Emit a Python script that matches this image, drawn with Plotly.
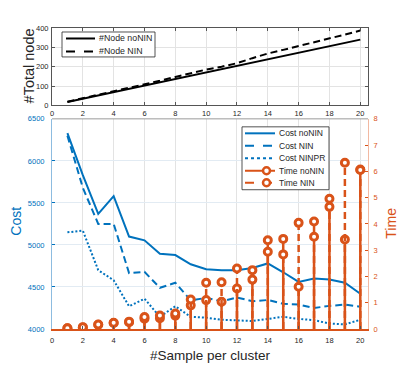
import plotly.graph_objects as go

# data
samples = list(range(1, 21))

node_nonin = [17, 34, 51, 68, 85, 102, 119, 136, 153, 170, 187, 204, 221, 238, 255, 272, 289, 306, 323, 340]
node_nin = [19, 37, 54, 70, 88, 108, 127, 147, 166, 185, 200, 218, 244, 268, 287, 306, 326, 345, 366, 387]

cost_nonin = [6330, 5830, 5370, 5580, 5100, 5055, 4895, 4880, 4770, 4710,
              4700, 4700, 4725, 4780, 4675, 4560, 4600, 4590, 4550, 4420]
cost_nin = [6300, 5680, 5250, 5250, 4665, 4680, 4490, 4550, 4340, 4370,
            4330, 4375, 4330, 4345, 4300, 4290, 4250, 4275, 4290, 4265]
cost_ninpr = [5150, 5170, 4700, 4580, 4270, 4360, 4145, 4270, 4145, 4135,
              4110, 4105, 4095, 4120, 4145, 4120, 4105, 4065, 4055, 4110]

time_nonin = [0.03, 0.06, 0.16, 0.23, 0.26, 0.39, 0.41, 0.51, 0.90, 1.10,
              1.04, 1.54, 2.24, 3.38, 3.43, 1.61, 4.09, 4.96, 3.41, 6.07]
time_nin = [0.03, 0.07, 0.17, 0.24, 0.28, 0.46, 0.51, 0.59, 1.12, 1.76,
            1.78, 2.30, 1.88, 2.94, 2.84, 4.04, 3.51, 4.65, 6.33, 6.05]

node_names = ["#Node noNIN", "#Node NIN"]
cost_names = ["Cost noNIN", "Cost NIN", "Cost NINPR"]
time_names = ["Time noNIN", "Time NIN"]

BLUE = "#0072BD"
ORANGE = "#D95319"
DARK = "#262626"
FONT = "Liberation Sans, Arial, sans-serif"
DASH = "7px,4px"
DOT = "2px,2px"

# the page body has an 8px margin, so the figure is drawn 8px in from the window corner
OFF = 8
W, H = 407 - OFF, 370 - OFF

# plot area in window pixels: x 52..368, y 28..329.5
L, R, T, B = 52, 368, 28, 329.5


def px(x):
    return (x - L) / (R - L)


def py(y):
    return (B - y) / (B - T)


fig = go.Figure()

# top: total node
fig.add_trace(go.Scatter(x=samples, y=node_nonin, mode="lines", line=dict(color="black", width=2),
                         xaxis="x", yaxis="y", showlegend=False))
fig.add_trace(go.Scatter(x=samples, y=node_nin, mode="lines", line=dict(color="black", width=2, dash=DASH),
                         xaxis="x", yaxis="y", showlegend=False))

# bottom: cost lines
for vals, d in zip([cost_nonin, cost_nin, cost_ninpr], ["solid", DASH, DOT]):
    fig.add_trace(go.Scatter(x=samples, y=vals, mode="lines", line=dict(color=BLUE, width=2, dash=d),
                             xaxis="x2", yaxis="y2", showlegend=False))


def stems(xv, yv):
    xs, ys = [], []
    for a, b in zip(xv, yv):
        xs += [a, a, None]
        ys += [0, b, None]
    return xs, ys


# time stems on the right axis
for vals, d in zip([time_nonin, time_nin], ["solid", DASH]):
    sx, sy = stems(samples, vals)
    fig.add_trace(go.Scatter(x=sx, y=sy, mode="lines", line=dict(color=ORANGE, width=2.5, dash=d),
                             xaxis="x2", yaxis="y3", showlegend=False, connectgaps=False))
    fig.add_trace(go.Scatter(x=samples, y=vals, mode="markers",
                             marker=dict(symbol="circle", size=7, color="white",
                                         line=dict(color=ORANGE, width=3)),
                             xaxis="x2", yaxis="y3", showlegend=False))

tick_font = dict(family=FONT, size=7.5, color=DARK)
grid = "#e3e3e3"

fig.update_layout(
    width=W, height=H,
    margin=dict(l=L - OFF, r=407 - R, t=T - OFF, b=370 - B, pad=0),
    paper_bgcolor="white", plot_bgcolor="white",
    font=dict(family=FONT),
    xaxis=dict(domain=[0, 1], anchor="y", range=[0, 20.5], tickvals=list(range(0, 21, 2)),
               ticks="inside", ticklen=3, tickcolor="#555", showline=True, linecolor="#555",
               linewidth=1, mirror="ticks", showgrid=True, gridcolor=grid, zeroline=False,
               tickfont=tick_font, ticklabelstandoff=1),
    yaxis=dict(domain=[(B - 105.5) / (B - T), 1], anchor="x", range=[0, 400],
               tickvals=[0, 100, 200, 300, 400], ticks="inside", ticklen=3, tickcolor="#555",
               showline=True, linecolor="#555", linewidth=1, mirror="ticks", showgrid=True,
               gridcolor=grid, zeroline=False, tickfont=tick_font, ticklabelstandoff=1),
    xaxis2=dict(domain=[0, 1], anchor="y2", range=[0, 20.5], tickvals=list(range(0, 21, 2)),
                ticks="inside", ticklen=3, tickcolor="#555", showline=True, linecolor=ORANGE,
                linewidth=1.5, mirror=False, showgrid=True, gridcolor=grid, zeroline=False,
                tickfont=tick_font, ticklabelstandoff=3),
    yaxis2=dict(domain=[0, (B - 119) / (B - T)], anchor="x2", range=[4000, 6500],
                tickvals=[4000, 4500, 5000, 5500, 6000, 6500], ticks="inside", ticklen=3,
                tickcolor=BLUE, showline=True, linecolor="#8dbce0", linewidth=1, showgrid=True,
                gridcolor="#e2ebf3", zeroline=False, tickfont=dict(family=FONT, size=7.5, color=BLUE),
                ticklabelstandoff=5),
    yaxis3=dict(overlaying="y2", side="right", anchor="x2", range=[0, 8], tickvals=list(range(0, 9)),
                ticks="inside", ticklen=3, tickcolor=ORANGE, showline=True, linecolor="#f2b9a2",
                linewidth=1, showgrid=False, zeroline=False,
                tickfont=dict(family=FONT, size=7.5, color=ORANGE), ticklabelstandoff=3),
)

shapes = []
annotations = []


def label(text, x, y, size, color, angle=0, xanchor="center"):
    annotations.append(dict(text=text, xref="paper", yref="paper", x=px(x), y=py(y),
                            xanchor=xanchor, yanchor="middle", textangle=angle, showarrow=False,
                            font=dict(size=size, color=color)))


# top edge of the lower axes
shapes.append(dict(type="line", xref="paper", yref="paper", x0=0, x1=1, y0=py(119), y1=py(119),
                   line=dict(color="#9a9a9a", width=1), layer="above"))

# axis titles
label("#Total node", 29, 66.5, 14.5, DARK, angle=-90)
label("Cost", 16, 222, 14, BLUE, angle=-90)
label("Time", 391, 224, 14, ORANGE, angle=-90)
label("#Sample per cluster", 210, 356.5, 13.5, DARK)

# legend of the top axes
shapes.append(dict(type="rect", xref="paper", yref="paper", x0=px(62), x1=px(155), y0=py(57), y1=py(32),
                   line=dict(color=DARK, width=0.8), fillcolor="white", layer="above"))
for name, d, yy in zip(node_names, ["solid", "dash"], [38.5, 51.5]):
    shapes.append(dict(type="line", xref="paper", yref="paper", x0=px(66), x1=px(95), y0=py(yy), y1=py(yy),
                       line=dict(color="black", width=2, dash=d), layer="above"))
    label(name, 96.5, yy, 8.8, DARK, xanchor="left")

# legend of the bottom axes
shapes.append(dict(type="rect", xref="paper", yref="paper", x0=px(242), x1=px(329), y0=py(190), y1=py(127),
                   line=dict(color=DARK, width=0.8), fillcolor="white", layer="above"))
leg_rows = [133.5, 146, 158.5, 171, 183]
leg_cols = [BLUE, BLUE, BLUE, ORANGE, ORANGE]
leg_dash = ["solid", "dash", "dot", "solid", "dash"]
for name, col, d, yy in zip(cost_names + time_names, leg_cols, leg_dash, leg_rows):
    shapes.append(dict(type="line", xref="paper", yref="paper", x0=px(245), x1=px(275), y0=py(yy), y1=py(yy),
                       line=dict(color=col, width=2, dash=d), layer="above"))
    if col == ORANGE:
        shapes.append(dict(type="circle", xref="paper", yref="paper", x0=px(263), x1=px(270),
                           y0=py(yy + 3.5), y1=py(yy - 3.5), line=dict(color=ORANGE, width=2.5),
                           fillcolor="white", layer="above"))
    label(name, 276.5, yy, 8.5, DARK, xanchor="left")

fig.update_layout(shapes=shapes, annotations=annotations)

fig.write_html("out.html")
